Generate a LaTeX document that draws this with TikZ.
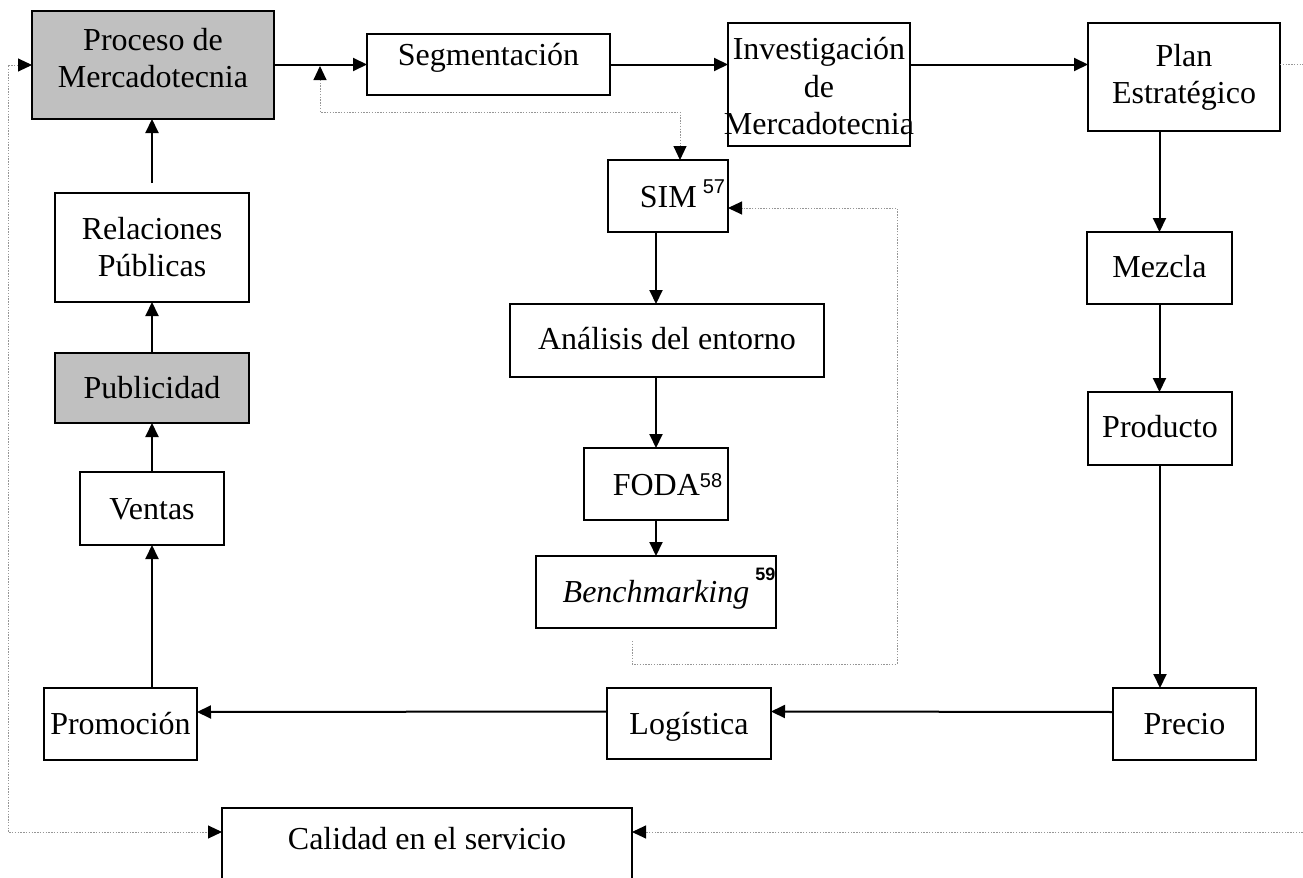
\documentclass[tikz,border=0pt]{standalone}
\usepackage{fontspec}
\setmainfont{Liberation Serif}
\newfontfamily\arialf{Liberation Sans}
\usetikzlibrary{arrows.meta}
\definecolor{boxgray}{RGB}{192,192,192}
\definecolor{dotgray}{RGB}{150,150,150}
\newcommand{\bxc}[4]{\parbox[t][#2][t]{#1}{\centering\rule{0pt}{#3}#4}}
\newcommand{\supn}[2]{\raisebox{#1}{\arialf\fontsize{10}{10}\selectfont #2}}
\tikzset{>={Triangle[length=7pt,width=6.5pt,color=black]}}
\begin{document}
\begin{tikzpicture}[x=0.5pt,y=-0.5pt,
  box/.style={draw, line width=1pt, inner sep=0pt, outer sep=0pt, anchor=north west, font=\fontsize{16}{18.75}\selectfont},
  gbox/.style={box, fill=boxgray},
  conn/.style={line width=1pt, ->},
  dconn/.style={line width=0.5pt, dotgray, dash pattern=on 0.7pt off 0.7pt}
]
\clip (0,0) rectangle (1303,878);

% nodes
\node[gbox] (proc) at (32,11) {\bxc{121pt}{54pt}{19.5pt}{Proceso de\\Mercadotecnia}};
\node[box] (segm) at (367,34) {\bxc{121.5pt}{30.5pt}{15.5pt}{Segmentación}};
\node[box] (inv) at (728,23) {\bxc{91pt}{61.5pt}{18.5pt}{Investigación\\de\\\makebox[\linewidth][c]{Mercadotecnia}}};
\node[box] (plan) at (1088,23) {\bxc{96pt}{54pt}{21.5pt}{Plan\\Estratégico}};
\node[box] (sim) at (608,160) {\bxc{60pt}{36pt}{23.5pt}{\hspace*{14.5pt}SIM\hspace{3pt}\supn{7pt}{57}}};
\node[box] (anal) at (510,304) {\bxc{157pt}{36.5pt}{22.5pt}{Análisis del entorno}};
\node[box] (foda) at (584,448) {\bxc{72pt}{36pt}{23.5pt}{\hspace*{11.5pt}FODA\supn{4pt}{58}}};
\node[box] (bench) at (536,556) {\bxc{120pt}{36pt}{23pt}{\textit{Benchmarking}\rlap{\hspace{3pt}\raisebox{11pt}{\arialf\bfseries\fontsize{9}{9}\selectfont 59}}}};
\node[box] (relp) at (55,193) {\bxc{97pt}{54.5pt}{23pt}{Relaciones\\Públicas}};
\node[gbox] (publ) at (55,353) {\bxc{97pt}{35pt}{22.5pt}{Publicidad}};
\node[box] (ventas) at (80,472) {\bxc{72pt}{36.5pt}{23.5pt}{Ventas}};
\node[box] (promo) at (44,688) {\bxc{76.5pt}{36pt}{23pt}{Promoción}};
\node[box] (logis) at (607,688) {\bxc{82pt}{35.5pt}{23pt}{Logística}};
\node[box] (precio) at (1113,688) {\bxc{71.5pt}{36pt}{23pt}{Precio}};
\node[box] (mezcla) at (1087,232) {\bxc{72.5pt}{36pt}{22.5pt}{Mezcla}};
\node[box] (prod) at (1088,392) {\bxc{72pt}{36.5pt}{22.5pt}{Producto}};
\node[box] (cal) at (222,808) {\bxc{205pt}{50pt}{20.5pt}{Calidad en el servicio}};

% solid connectors
\draw[conn] (segm.west -| proc.east) -- (segm.west);
\draw[conn] (segm.east) -- (segm.east -| inv.west);
\draw[conn] (segm.east -| inv.east) -- (segm.east -| plan.west);
\draw[conn] (plan.south -| mezcla.north) -- (mezcla.north);
\draw[conn] (mezcla.south) -- (mezcla.south |- prod.north);
\draw[conn] (prod.south) -- (prod.south |- precio.north);
\draw[conn] ([yshift=6pt]precio.west) -- ([yshift=6pt]logis.east);
\draw[conn] ([yshift=6pt]logis.west) -- ([yshift=6pt]promo.east);
\draw[conn] (ventas.south |- promo.north) -- (ventas.south);
\draw[conn] (ventas.north) -- (ventas.north |- publ.south);
\draw[conn] (publ.north) -- (publ.north |- relp.south);
\draw[conn, shorten <=5pt] (relp.north) -- (relp.north |- proc.south);
\draw[conn] (sim.south -| foda.north) -- (anal.north -| foda.north);
\draw[conn] (anal.south -| foda.north) -- (foda.north);
\draw[conn] (foda.south) -- (bench.north);

% dotted connectors
\coordinate (jn) at (320,66);
\draw[dconn, <->] (jn) -- (320,112) -| ([xshift=6pt]sim.north);
\draw[dconn, ->] ([xshift=-12pt,yshift=-6.5pt]bench.south) |- (897,664) |- ([yshift=-6pt]sim.east);
\draw[dconn, <->] (proc.west) -| (8,832) -- ([yshift=-12pt]cal.north west);
\draw[dconn, ->] ([yshift=6.5pt]plan.east) -| (1312,832) -- ([yshift=-12pt]cal.north east);
\end{tikzpicture}
\end{document}
